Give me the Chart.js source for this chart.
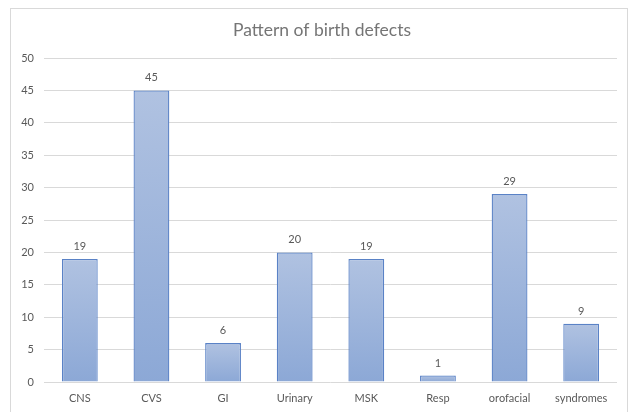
<!DOCTYPE html>
<html>
<head>
<meta charset="utf-8">
<script src="https://cdn.jsdelivr.net/npm/chart.js@4"></script>
<style>
  html, body { margin: 0; padding: 0; background: #fff; }
  #wrap { width: 629px; height: 412px; }
</style>
</head>
<body>
<div id="wrap"><canvas id="myChart" width="629" height="412"></canvas></div>
<script>
// data
const categories = ['CNS', 'CVS', 'GI', 'Urinary', 'MSK', 'Resp', 'orofacial', 'syndromes'];
const defects = [19, 45, 6, 20, 19, 1, 29, 9];
const yTicks = [0, 5, 10, 15, 20, 25, 30, 35, 40, 45, 50];
const chartTitle = 'Pattern of birth defects';

const textGray = '#595959';
const fontName = 'Lato, "Open Sans", sans-serif';

// gradient for each bar, light at top, darker at bottom
function barFill(context) {
    const chart = context.chart;
    const yScale = chart.scales.y;
    if (!yScale || context.parsed === undefined) return '#9fb5dc';
    const top = yScale.getPixelForValue(context.parsed.y);
    const bottom = yScale.getPixelForValue(0);
    if (!isFinite(top) || !isFinite(bottom) || top === bottom) return '#9fb5dc';
    const g = chart.ctx.createLinearGradient(0, top, 0, bottom);
    g.addColorStop(0, '#b0c2e1');
    g.addColorStop(1, '#8ca8d6');
    return g;
}

// frame, title and value labels above bars
const extras = {
    id: 'extras',
    beforeDraw(chart) {
        const c = chart.ctx;
        c.save();
        c.fillStyle = '#fff';
        c.fillRect(0, 0, chart.width, chart.height);
        c.strokeStyle = '#d9d9d9';
        c.lineWidth = 1;
        c.strokeRect(10.5, 8.5, chart.width - 12, chart.height - 8);
        // title (Excel puts it a bit right of the canvas middle)
        c.font = '17.5px ' + fontName;
        c.fillStyle = '#757575';
        c.textAlign = 'center';
        c.textBaseline = 'middle';
        c.fillText(chartTitle, 322, 30);
        c.restore();
    },
    afterDatasetsDraw(chart) {
        const c = chart.ctx;
        const meta = chart.getDatasetMeta(0);
        c.save();
        c.font = '11px ' + fontName;
        c.fillStyle = textGray;
        c.textAlign = 'center';
        c.textBaseline = 'bottom';
        meta.data.forEach((bar, i) => {
            c.fillText(String(defects[i]), bar.x, bar.y - 7);
        });
        c.restore();
    }
};

const ctx = document.getElementById('myChart').getContext('2d');

const myChart = new Chart(ctx, {
    type: 'bar',
    data: {
        labels: categories,
        datasets: [{
            label: chartTitle,
            data: defects,
            backgroundColor: barFill,
            borderColor: '#5a82c6',
            borderWidth: 1.3,
            barPercentage: 0.5,
            categoryPercentage: 1.0
        }]
    },
    options: {
        responsive: false,
        animation: false,
        layout: { padding: { left: 10, right: 12, top: 58, bottom: 6 } },
        plugins: {
            legend: { display: false },
            tooltip: { enabled: false },
            title: { display: false }
        },
        scales: {
            x: {
                grid: { display: false, drawTicks: false },
                border: { display: false },
                ticks: { color: textGray, font: { family: fontName, size: 11 }, padding: 10 },
                afterFit(scale) { scale.height = 24; }
            },
            y: {
                min: 0,
                max: 50,
                afterBuildTicks(scale) { scale.ticks = yTicks.map(v => ({ value: v })); },
                grid: { color: '#d9d9d9', lineWidth: 1, drawTicks: false },
                border: { display: false },
                ticks: { color: textGray, font: { family: fontName, size: 11 }, padding: 10 },
                afterFit(scale) { scale.width = 34; }
            }
        }
    },
    plugins: [extras]
});
</script>
</body>
</html>
